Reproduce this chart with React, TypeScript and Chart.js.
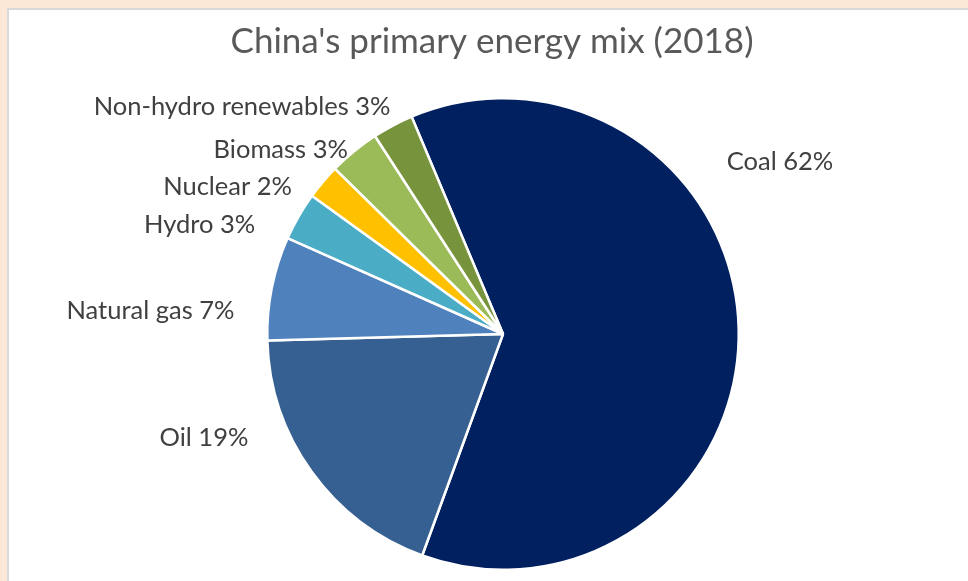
import React, { useEffect, useRef } from "react";
import { Chart, registerables } from "chart.js";

Chart.register(...registerables);

const TITLE = "China's primary energy mix (2018)";
const categories = ["Coal", "Oil", "Natural gas", "Hydro", "Nuclear", "Biomass", "Non-hydro renewables"];
const shares = [61.9, 19.0, 7.1, 3.3, 2.4, 3.5, 2.8];
const shareLabels = ["62%", "19%", "7%", "3%", "2%", "3%", "3%"];
const colors = ["#002060", "#376092", "#4F81BD", "#4BACC6", "#FFC000", "#9BBB59", "#77933C"];

// label anchors relative to pie centre, in units of the pie radius
const labelAnchors = [
  { dx: 0.949, dy: -0.73, align: "left" },
  { dx: -1.08, dy: 0.439, align: "right" },
  { dx: -1.139, dy: -0.097, align: "right" },
  { dx: -1.051, dy: -0.464, align: "right" },
  { dx: -0.895, dy: -0.624, align: "right" },
  { dx: -0.658, dy: -0.781, align: "right" },
  { dx: -0.477, dy: -0.962, align: "right" },
];

const FONT = "Lato, 'DejaVu Sans', sans-serif";

const labelPlugin = {
  id: "excelLabels",
  afterDraw(chart: any) {
    const ctx = chart.ctx;
    const meta = chart.getDatasetMeta(0);
    const arc = meta.data[0];
    if (!arc) return;
    const { x, y, outerRadius } = arc.getProps(["x", "y", "outerRadius"], true);
    ctx.save();
    ctx.fillStyle = "#595959";
    ctx.font = `35px ${FONT}`;
    ctx.textAlign = "center";
    ctx.textBaseline = "middle";
    ctx.fillText(TITLE, 492, 42);
    ctx.fillStyle = "#404040";
    ctx.font = `25.5px ${FONT}`;
    categories.forEach((c, i) => {
      const a = labelAnchors[i];
      ctx.textAlign = a.align;
      ctx.fillText(`${c} ${shareLabels[i]}`, x + a.dx * outerRadius, y + a.dy * outerRadius);
    });
    ctx.restore();
  },
};

export default function App() {
  const ref = useRef<HTMLCanvasElement>(null);
  useEffect(() => {
    if (!ref.current) return;
    const chart = new Chart(ref.current, {
      type: "pie",
      data: {
        labels: categories,
        datasets: [
          {
            data: shares,
            backgroundColor: colors,
            borderColor: "#ffffff",
            borderWidth: 2.5,
          },
        ],
      },
      options: {
        animation: false,
        responsive: true,
        maintainAspectRatio: false,
        rotation: -22.8,
        layout: { padding: { left: 266, right: 228, top: 96, bottom: 9 } },
        plugins: {
          legend: { display: false },
          title: { display: false },
          tooltip: { enabled: false },
        },
      },
      plugins: [labelPlugin],
    });
    return () => chart.destroy();
  }, []);

  return (
    <div style={{ position: "fixed", left: 0, top: 0, width: 968, height: 581, background: "#FCE8D6", overflow: "hidden" }}>
      <div
        style={{
          position: "absolute",
          left: 7,
          top: 8,
          right: 0,
          bottom: 0,
          background: "#ffffff",
          borderLeft: "2px solid #D9D9D9",
          borderTop: "2px solid #D9D9D9",
        }}
      />
      <div style={{ position: "absolute", left: 0, top: 0, width: 968, height: 581 }}>
        <canvas ref={ref} />
      </div>
    </div>
  );
}
